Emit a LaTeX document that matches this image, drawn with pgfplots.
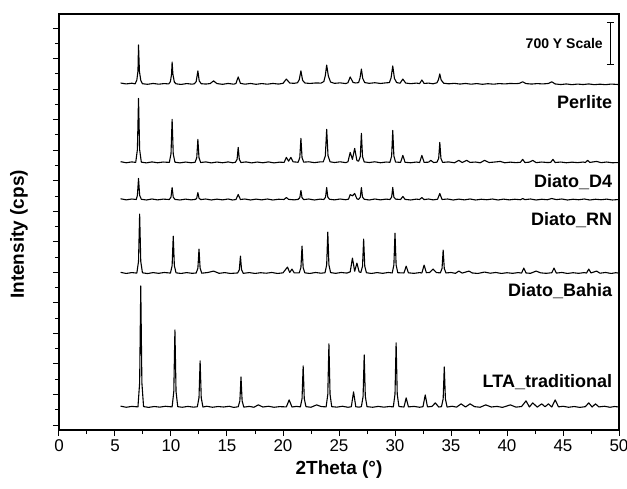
\documentclass[border=0pt]{standalone}
\usepackage{pgfplots}
\pgfplotsset{compat=1.18}
\usepackage{fontspec}
\setmainfont{Liberation Sans}
\pgfplotsset{trace/.style={black, no markers, line width=1.1pt, line join=round}}

\begin{document}
\begin{tikzpicture}
\useasboundingbox (-59pt,-58pt) rectangle (568pt,430pt);
\begin{axis}[
  at={(0,0)}, anchor=south west,
  scale only axis, width=560pt, height=416pt,
  xmin=0, xmax=50, ymin=0, ymax=6840,
  xtick={0,5,...,50}, minor x tick num=1,
  ytick={82,584,...,6608}, minor y tick num=1,
  yticklabels={},
  tick align=outside, tick pos=left,
  major tick length=6pt, minor tick length=4pt,
  every tick/.style={black, line width=1pt},
  axis line style={line width=1.2pt},
  /pgf/number format/assume math mode=true,
  ticklabel style={font=\fontsize{17}{20}\selectfont},
  xlabel={2Theta (°)},
  ylabel={Intensity (cps)},
  xlabel style={font=\fontsize{19}{22}\selectfont\bfseries, at={(axis description cs:0.5,-0.096)}, anchor=center},
  ylabel style={font=\fontsize{19}{22}\selectfont\bfseries, at={(axis description cs:-0.0713,0.47)}, anchor=center},
]
% Perlite
\addplot[trace] coordinates {
(5.5,5705)(6.0,5690)(6.5,5702)(6.8,5692)(6.95,5754)(7.05,5900)(7.1,6330)(7.18,5900)(7.3,5750)(7.45,5694)
(7.9,5684)(8.4,5698)(8.9,5686)(9.4,5696)(9.8,5690)(9.95,5730)(10.05,5850)(10.1,6050)(10.17,5850)(10.3,5720)(10.45,5692)
(10.9,5682)(11.4,5696)(11.9,5686)(12.1,5694)(12.25,5730)(12.4,5905)(12.52,5740)(12.7,5694)
(13.1,5688)(13.5,5696)(13.8,5740)(14.1,5696)(14.6,5684)(15.1,5698)(15.6,5686)(15.8,5698)(16.0,5805)(16.2,5700)
(16.6,5686)(17.1,5698)(17.6,5684)(18.1,5696)(18.6,5686)(19.1,5698)(19.6,5688)(20.0,5700)(20.3,5770)(20.6,5705)
(21.0,5700)(21.3,5710)(21.45,5760)(21.6,5905)(21.75,5750)(21.95,5706)(22.4,5698)(22.9,5706)(23.4,5704)
(23.65,5730)(23.78,5830)(23.9,6000)(24.05,5820)(24.25,5720)(24.6,5700)(25.1,5708)(25.6,5696)(25.8,5710)
(26.0,5805)(26.25,5715)(26.5,5706)(26.75,5712)(26.88,5790)(27.0,5935)(27.12,5780)(27.3,5712)(27.7,5700)
(28.2,5710)(28.7,5698)(29.2,5708)(29.5,5712)(29.65,5790)(29.8,5985)(29.95,5780)(30.15,5712)(30.45,5702)
(30.7,5770)(30.95,5705)(31.4,5694)(31.9,5704)(32.2,5696)(32.4,5755)(32.6,5698)(33.0,5704)(33.4,5692)
(33.75,5710)(33.88,5760)(34.0,5855)(34.12,5755)(34.35,5702)(34.8,5692)(35.3,5700)(35.8,5688)(36.3,5698)
(36.8,5686)(37.3,5696)(37.8,5684)(38.3,5694)(38.8,5686)(39.3,5696)(39.8,5690)(40.3,5698)(40.8,5694)
(41.1,5700)(41.4,5725)(41.7,5696)(42.2,5688)(42.7,5696)(43.2,5690)(43.7,5698)(44.0,5725)(44.3,5690)
(44.8,5680)(45.3,5690)(45.8,5678)(46.3,5688)(46.8,5680)(47.3,5690)(47.8,5678)(48.3,5686)(48.8,5678)
(49.3,5688)(50.0,5680)
};
% Diato_D4
\addplot[trace] coordinates {
(5.5,4412)(6.0,4394)(6.5,4408)(6.85,4400)(7.0,4610)(7.1,5452)(7.2,4610)(7.35,4404)(7.8,4392)(8.3,4408)
(8.8,4394)(9.3,4406)(9.85,4400)(10.0,4541)(10.1,5107)(10.2,4541)(10.35,4404)(10.8,4392)(11.3,4406)
(11.8,4394)(12.15,4402)(12.3,4476)(12.4,4778)(12.5,4476)(12.65,4398)(13.1,4408)(13.6,4392)(14.1,4406)
(14.6,4394)(15.1,4408)(15.5,4394)(15.75,4402)(15.9,4449)(16.0,4647)(16.1,4449)(16.25,4398)(16.7,4408)
(17.2,4392)(17.7,4406)(18.2,4394)(18.7,4408)(19.2,4392)(19.7,4404)(20.1,4400)(20.3,4482)(20.5,4420)
(20.7,4482)(20.9,4410)(21.35,4402)(21.5,4479)(21.6,4795)(21.7,4479)(21.85,4404)(22.3,4410)(22.8,4396)
(23.3,4408)(23.6,4410)(23.78,4509)(23.9,4943)(24.02,4509)(24.2,4410)(24.6,4398)(25.1,4410)(25.6,4396)
(25.8,4410)(26.0,4564)(26.2,4450)(26.4,4630)(26.6,4430)(26.75,4420)(26.9,4495)(27.0,4877)(27.1,4495)
(27.25,4408)(27.7,4398)(28.2,4410)(28.7,4394)(29.2,4406)(29.55,4402)(29.7,4505)(29.8,4926)(29.9,4505)
(30.05,4406)(30.5,4400)(30.7,4515)(30.9,4402)(31.4,4394)(31.9,4406)(32.2,4398)(32.4,4515)(32.6,4400)
(33.0,4404)(33.2,4433)(33.45,4398)(33.75,4404)(33.9,4466)(34.0,4729)(34.1,4466)(34.25,4400)(34.8,4408)
(35.3,4394)(35.7,4433)(36.0,4398)(36.4,4433)(36.7,4400)(37.2,4406)(37.6,4394)(38.0,4433)(38.4,4398)
(38.9,4406)(39.4,4416)(39.8,4394)(40.3,4404)(40.8,4396)(41.2,4402)(41.4,4450)(41.6,4398)(42.0,4404)
(42.3,4433)(42.6,4396)(43.1,4406)(43.6,4398)(43.9,4400)(44.1,4450)(44.3,4398)(44.8,4406)(45.3,4394)
(45.8,4404)(46.3,4396)(46.8,4406)(47.0,4398)(47.2,4433)(47.4,4400)(48.0,4416)(48.4,4396)(48.9,4406)
(49.4,4394)(50.0,4398)
};
% Diato_RN
\addplot[trace] coordinates {
(5.5,3802)(6.0,3784)(6.5,3798)(6.9,3790)(7.0,3859)(7.1,4135)(7.2,3859)(7.35,3794)(7.8,3782)(8.3,3798)
(8.8,3784)(9.3,3796)(9.85,3790)(10.0,3829)(10.1,3987)(10.2,3829)(10.35,3792)(10.8,3782)(11.3,3796)
(11.8,3784)(12.2,3792)(12.3,3813)(12.4,3905)(12.5,3813)(12.65,3788)(13.1,3798)(13.6,3782)(14.1,3796)
(14.6,3784)(15.1,3798)(15.5,3782)(15.8,3790)(16.0,3872)(16.2,3790)(16.6,3798)(17.1,3782)(17.6,3796)
(18.1,3784)(18.6,3798)(19.1,3782)(19.6,3794)(20.1,3790)(20.3,3823)(20.5,3792)(21.0,3784)(21.35,3792)
(21.5,3820)(21.6,3938)(21.7,3820)(21.85,3788)(22.3,3798)(22.8,3782)(23.3,3796)(23.65,3790)(23.8,3829)
(23.9,3987)(24.0,3829)(24.15,3794)(24.6,3784)(25.1,3798)(25.6,3786)(25.85,3796)(26.0,3870)(26.2,3850)
(26.4,3889)(26.6,3800)(26.75,3792)(26.9,3829)(27.0,3987)(27.1,3829)(27.25,3794)(27.7,3782)(28.2,3798)
(28.7,3784)(29.2,3796)(29.55,3790)(29.7,3829)(29.8,3987)(29.9,3829)(30.05,3796)(30.5,3790)(30.7,3840)
(30.9,3792)(31.4,3782)(31.9,3796)(32.2,3790)(32.4,3823)(32.6,3788)(33.0,3798)(33.4,3784)(33.8,3794)
(34.0,3889)(34.2,3790)(34.7,3798)(35.2,3782)(35.7,3796)(36.2,3784)(36.7,3798)(37.2,3782)(37.7,3794)
(38.2,3786)(38.7,3798)(39.2,3782)(39.7,3796)(40.2,3784)(40.7,3794)(41.2,3786)(41.4,3806)(41.6,3788)
(42.1,3798)(42.6,3782)(43.1,3794)(43.6,3786)(44.0,3806)(44.4,3788)(44.9,3798)(45.4,3782)(45.9,3794)
(46.4,3786)(46.9,3798)(47.4,3782)(47.9,3794)(48.4,3786)(48.9,3796)(49.4,3782)(50.0,3790)
};
% Diato_Bahia
\addplot[trace] coordinates {
(5.5,2592)(6.0,2574)(6.5,2588)(6.95,2580)(7.1,2774)(7.2,3550)(7.3,2774)(7.45,2585)(7.9,2572)(8.4,2588)
(8.9,2576)(9.4,2590)(9.95,2580)(10.1,2702)(10.2,3188)(10.3,2702)(10.45,2584)(10.9,2574)(11.4,2588)
(11.9,2576)(12.25,2582)(12.4,2659)(12.5,2975)(12.6,2659)(12.75,2578)(13.3,2590)(13.8,2613)(14.3,2576)
(14.8,2588)(15.3,2574)(15.95,2582)(16.1,2636)(16.2,2859)(16.3,2636)(16.45,2576)(17.0,2588)(17.5,2574)
(18.0,2586)(18.5,2578)(19.0,2590)(19.5,2574)(20.0,2584)(20.4,2679)(20.6,2590)(20.8,2646)(21.0,2584)
(21.45,2584)(21.6,2669)(21.7,3024)(21.8,2669)(21.95,2584)(22.4,2574)(22.9,2590)(23.4,2578)(23.75,2586)
(23.9,2715)(24.0,3254)(24.1,2715)(24.25,2588)(24.7,2576)(25.2,2590)(25.7,2580)(26.0,2600)(26.2,2827)
(26.4,2610)(26.6,2744)(26.8,2600)(26.95,2590)(27.1,2692)(27.2,3139)(27.3,2692)(27.45,2586)(27.9,2574)
(28.4,2588)(28.9,2576)(29.4,2590)(29.75,2582)(29.9,2712)(30.0,3238)(30.1,2712)(30.25,2586)(30.8,2582)
(31.0,2695)(31.2,2584)(31.7,2576)(32.2,2588)(32.4,2582)(32.6,2712)(32.8,2586)(33.1,2590)(33.4,2646)
(33.7,2588)(34.05,2584)(34.2,2656)(34.3,2958)(34.4,2656)(34.55,2582)(35.0,2590)(35.4,2576)(35.7,2613)
(36.0,2580)(36.6,2613)(36.9,2582)(37.4,2574)(38.0,2597)(38.5,2578)(39.0,2590)(39.5,2574)(40.0,2586)
(40.5,2576)(41.0,2588)(41.3,2580)(41.5,2662)(41.7,2582)(42.1,2576)(42.6,2613)(43.0,2584)(43.5,2576)
(44.0,2586)(44.2,2662)(44.4,2580)(44.9,2590)(45.4,2574)(45.9,2586)(46.4,2576)(46.9,2588)(47.1,2580)
(47.3,2646)(47.5,2582)(48.0,2613)(48.3,2578)(48.8,2590)(49.3,2574)(49.7,2586)(50.0,2580)
};
% LTA_traditional
\addplot[trace] coordinates {
(5.5,392)(6.0,374)(6.5,388)(7.05,380)(7.2,778)(7.3,2369)(7.4,778)(7.55,385)(8.0,372)(8.5,386)
(9.0,376)(9.5,390)(10.1,380)(10.25,633)(10.35,1646)(10.45,633)(10.6,384)(11.0,374)(11.5,388)(12.0,376)
(12.35,382)(12.5,531)(12.6,1136)(12.7,531)(12.85,378)(13.2,390)(13.7,374)(14.2,386)(14.7,378)(15.2,390)
(15.6,372)(16.0,382)(16.15,479)(16.25,873)(16.35,479)(16.5,376)(17.0,388)(17.4,374)(17.8,413)(18.2,378)
(18.7,390)(19.2,374)(19.7,384)(20.3,380)(20.55,495)(20.8,378)(21.2,388)(21.55,380)(21.7,515)(21.8,1054)
(21.9,515)(22.05,384)(22.5,374)(23.0,413)(23.4,386)(23.85,380)(24.0,587)(24.1,1416)(24.2,587)(24.35,384)
(24.8,376)(25.3,390)(25.8,374)(26.1,382)(26.3,627)(26.5,382)(26.8,376)(27.0,384)(27.15,551)(27.25,1235)
(27.35,551)(27.5,384)(28.0,374)(28.5,388)(29.0,376)(29.5,386)(29.85,380)(30.0,590)(30.1,1432)(30.2,590)
(30.35,386)(30.8,378)(31.0,528)(31.2,380)(31.7,388)(32.2,374)(32.5,384)(32.7,577)(32.9,380)(33.3,388)
(33.6,446)(33.9,378)(34.15,384)(34.3,512)(34.4,1038)(34.5,512)(34.65,378)(35.1,390)(35.5,376)(35.9,430)
(36.3,378)(36.7,430)(37.1,384)(37.6,374)(38.1,413)(38.6,378)(39.1,388)(39.6,372)(40.3,413)(40.8,376)
(41.3,386)(41.7,479)(42.0,378)(42.3,446)(42.7,376)(43.1,430)(43.4,382)(43.7,430)(44.0,378)(44.3,495)
(44.6,380)(45.0,390)(45.5,374)(46.0,386)(46.5,372)(47.0,384)(47.3,446)(47.6,378)(47.9,430)(48.2,380)
(48.7,390)(49.2,374)(49.6,386)(50.0,378)
};
\begin{scope}[font=\fontsize{18}{21}\selectfont\bfseries]
\node[anchor=east, inner sep=0pt] at (axis cs:49.4,5392) {Perlite};
\node[anchor=east, inner sep=0pt] at (axis cs:49.4,4077) {Diato\_D4};
\node[anchor=east, inner sep=0pt] at (axis cs:49.4,3452) {Diato\_RN};
\node[anchor=east, inner sep=0pt] at (axis cs:49.4,2285) {Diato\_Bahia};
\node[anchor=east, inner sep=0pt] at (axis cs:49.4,789) {LTA\_traditional};
\end{scope}
\node[anchor=east, inner sep=0pt, font=\fontsize{14}{16}\selectfont\bfseries] at (axis cs:48.57,6362) {700 Y Scale};
\draw[line width=1pt] (axis cs:49.23,6012) -- (axis cs:49.23,6708);
\draw[line width=1pt] ([xshift=-3.5pt]axis cs:49.23,6012) -- ([xshift=3.5pt]axis cs:49.23,6012);
\draw[line width=1pt] ([xshift=-3.5pt]axis cs:49.23,6708) -- ([xshift=3.5pt]axis cs:49.23,6708);
\end{axis}
\end{tikzpicture}
\end{document}
